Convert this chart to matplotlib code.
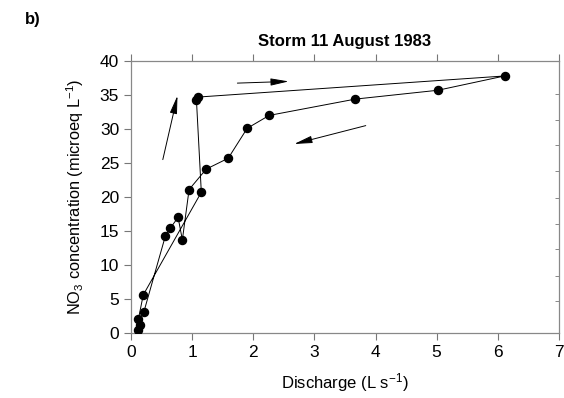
import numpy as np
import matplotlib.pyplot as plt

plt.rcParams['font.family'] = ['Liberation Sans', 'DejaVu Sans']
plt.rcParams['mathtext.fontset'] = 'custom'
plt.rcParams['mathtext.rm'] = 'Liberation Sans'
plt.rcParams['mathtext.it'] = 'Liberation Sans:italic'

# dati (ordine lungo il ciclo di isteresi)
discharge = [0.11, 0.15, 0.12, 0.20, 1.15, 1.07, 1.10, 6.11, 5.02, 3.67,
             2.26, 1.90, 1.59, 1.23, 0.95, 0.84, 0.77, 0.64, 0.56, 0.21]
no3 = [0.4, 1.2, 2.0, 5.6, 20.7, 34.3, 34.7, 37.8, 35.7, 34.4,
       32.0, 30.1, 25.7, 24.1, 21.1, 13.7, 17.0, 15.4, 14.2, 3.1]

# frecce (inizio, fine) in unita' dei dati
arrows = [((0.52, 25.5), (0.76, 34.9)),
          ((1.74, 36.75), (2.58, 37.0)),
          ((3.84, 30.5), (2.67, 27.8))]

xticks = [0, 1, 2, 3, 4, 5, 6, 7]
yticks = [0, 5, 10, 15, 20, 25, 30, 35, 40]
right_ticks = [4.7, 8.4, 12.3, 16.1, 19.9, 23.8, 27.6, 31.3, 35.1]

fig = plt.figure(figsize=(5.64, 3.98), dpi=100)
ax = fig.add_axes([0.2323, 0.1633, 0.7587, 0.6834])

ax.plot(discharge, no3, color='black', lw=0.7, marker='o', ms=5.8,
        markerfacecolor='black', markeredgecolor='black', zorder=3)

for (x0, y0), (x1, y1) in arrows:
    ax.annotate('', xy=(x1, y1), xytext=(x0, y0),
                arrowprops=dict(arrowstyle='-|>,head_length=1.1,head_width=0.22',
                                color='black', lw=0.7, shrinkA=0, shrinkB=0))

ax.set_xlim(0, 7)
ax.set_ylim(0, 40)
ax.set_xticks(xticks)
ax.set_yticks(yticks)
ax.tick_params(axis='both', labelsize=12.5, color='#777777', length=5, width=0.8)
ax.tick_params(axis='x', top=True, direction='out')
ax.tick_params(axis='y', direction='out')
for s in ax.spines.values():
    s.set_color('#888888')
    s.set_linewidth(0.9)

ax2 = ax.twinx()
ax2.set_ylim(0, 40)
ax2.set_yticks(right_ticks)
ax2.set_yticklabels([])
ax2.tick_params(axis='y', direction='in', length=3, color='#888888', width=0.7)
for s in ax2.spines.values():
    s.set_visible(False)

ax.set_xlabel('Discharge (L s$^{-1}$)', fontsize=12, labelpad=8)
ax.set_ylabel('NO$_3$ concentration (microeq L$^{-1}$)', fontsize=11.8, labelpad=10)
ax.set_title('Storm 11 August 1983', fontsize=12, fontweight='bold', pad=11)
fig.text(0.044, 0.95, 'b)', fontsize=12, fontweight='bold', ha='left', va='center')

fig.savefig('out.png', dpi=100)
